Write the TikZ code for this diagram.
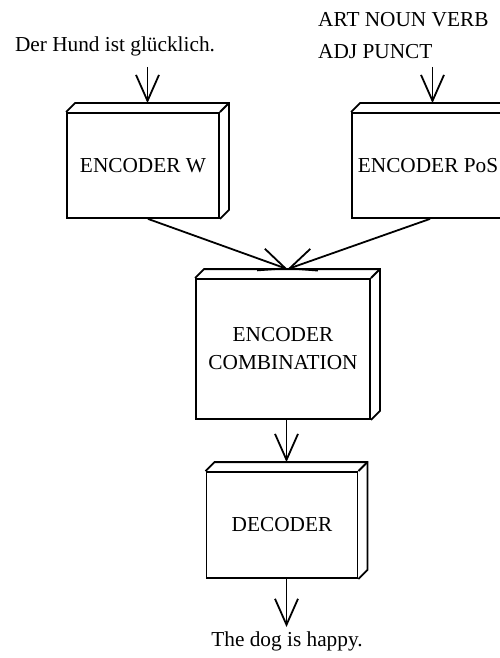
\documentclass[tikz,border=0pt]{standalone}
\usepackage{fontspec}
\setmainfont{Liberation Serif}
\usetikzlibrary{arrows.meta}
\tikzset{
  box/.style={draw, line width=1.8pt, fill=white, inner sep=0pt, align=center,
    font=\fontsize{21.3}{28}\selectfont},
  lbl/.style={inner sep=0pt, font=\fontsize{21.3}{32}\selectfont},
  conn/.style={line width=1.8pt, -{Straight Barb[length=26pt, width=23pt, line width=1.8pt]}},
  edge3d/.style={line width=1.8pt, line join=miter}
}
\newcommand{\threed}[1]{%
  \draw[edge3d] (#1.north west) -- ++(9,-9) -- ([shift={(9,-9)}]#1.north east)
     -- ([shift={(9,-9)}]#1.south east) -- (#1.south east);
  \draw[edge3d] (#1.north east) -- ++(9,-9);
}
\begin{document}
\begin{tikzpicture}[x=1pt,y=-1pt]
\useasboundingbox (0,0) rectangle (500,658);
\clip (0,0) rectangle (500,658);
% boxes
\node[box, minimum width=152pt, minimum height=105pt] (w) at (143,165.5) {ENCODER W};
\node[box, minimum width=152pt, minimum height=105pt] (p) at (428,165.5) {ENCODER PoS};
\node[box, minimum width=174pt, minimum height=140pt] (c) at (283,349) {\raisebox{-3pt}{\parbox{170pt}{\centering ENCODER\\COMBINATION}}};
\node[box, minimum width=151pt, minimum height=106pt] (d) at (282,525) {DECODER};
\threed{w}\threed{p}\threed{c}\threed{d}
% labels
\node[lbl] (tin) at (115,46) {Der Hund ist glücklich.};
\node[lbl, align=left, anchor=west] (pin) at (318,36) {ART NOUN VERB\\ADJ PUNCT};
\node[lbl] (tout) at (287,641) {The dog is happy.};
% anchor coordinates
\coordinate (wtop) at ([shift={(4.5,-9)}]w.north);
\coordinate (ptop) at ([shift={(4.5,-9)}]p.north);
\coordinate (ctop) at ([shift={(4.5,-9)}]c.north);
\coordinate (dtop) at ([shift={(4.5,-9)}]d.north);
\coordinate (win) at (wtop |- 0,67);
\coordinate (pin0) at (ptop |- 0,67);
\coordinate (dout) at (dtop |- 0,627);
% connectors
\draw[conn] (win) -- (wtop);
\draw[conn] (pin0) -- (ptop);
\draw[conn] ([xshift=5pt]w.south) -- (ctop);
\draw[conn] ([xshift=2pt]p.south) -- (ctop);
\draw[conn] (c.south -| dtop) -- (dtop);
\draw[conn] (d.south -| dtop) -- (dout);
\end{tikzpicture}
\end{document}
